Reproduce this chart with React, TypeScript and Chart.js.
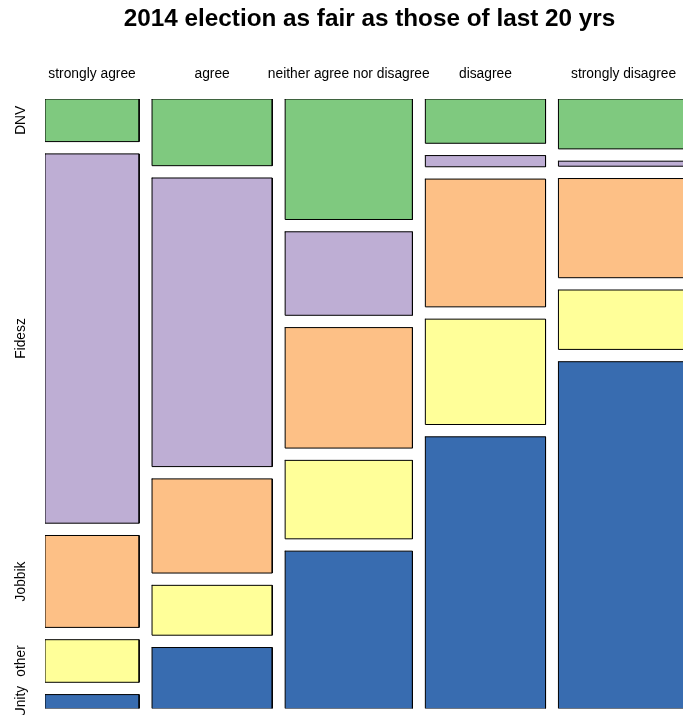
import { useEffect, useRef } from 'react';
import { Chart, registerables } from 'chart.js';

Chart.register(...registerables);

const chartTitle = '2014 election as fair as those of last 20 yrs';

// Answer categories (columns) and the share of respondents giving each answer (%)
const answers = ['strongly agree', 'agree', 'neither agree nor disagree', 'disagree', 'strongly disagree'];
const answerShare = [15.9, 20.3, 21.5, 20.3, 22.0];

// Party categories (rows), top to bottom
const parties = ['DNV', 'Fidesz', 'Jobbik', 'other', 'Unity'];

// Party split within each answer (% of that answer's respondents)
const dnv = [7.6, 11.9, 21.5, 7.9, 8.9];
const fidesz = [65.9, 51.5, 14.9, 2.0, 0.9];
const jobbik = [16.4, 16.8, 21.5, 22.8, 17.7];
const other = [7.6, 8.9, 14.0, 18.8, 10.6];
const unity = [2.5, 10.9, 28.1, 48.5, 61.9];

const partyColors = ['#7FC97F', '#BEAED4', '#FDC086', '#FFFF99', '#386CB0'];

// Spacing between mosaic tiles, in axis units
const GAP_X = 2.18;
const GAP_Y = 2.195;

const FONT = 'Liberation Sans, Arial, Helvetica, sans-serif';
const TITLE_SIZE = 24.3;
const TITLE_PAD_TOP = 4.5;
const TOP_AREA = 99; // title + answer labels above the mosaic

type Tile = { party: number; answer: number; x0: number; x1: number; y0: number; y1: number };

function buildMosaic(): { tiles: Tile[]; xMax: number; yMax: number } {
  const rows = [dnv, fidesz, jobbik, other, unity];
  const shareTotal = answerShare.reduce((s, v) => s + v, 0);
  const tiles: Tile[] = [];
  let x = 0;
  answers.forEach((_, j) => {
    const w = (answerShare[j] / shareTotal) * 100;
    const colTotal = rows.reduce((s, row) => s + row[j], 0);
    let y = 0;
    rows.forEach((row, i) => {
      const h = (row[j] / colTotal) * 100;
      tiles.push({ party: i, answer: j, x0: x, x1: x + w, y0: y, y1: y + h });
      y += h + GAP_Y;
    });
    x += w + GAP_X;
  });
  return {
    tiles,
    xMax: 100 + (answers.length - 1) * GAP_X,
    yMax: 100 + (parties.length - 1) * GAP_Y,
  };
}

export default function App() {
  const canvasRef = useRef<HTMLCanvasElement | null>(null);

  useEffect(() => {
    const canvas = canvasRef.current;
    if (!canvas) return;
    const { tiles, xMax, yMax } = buildMosaic();

    const columnCenters = answers.map((_, j) => {
      const t = tiles.find((tt) => tt.answer === j)!;
      return (t.x0 + t.x1) / 2;
    });
    const rowCenters = parties.map((_, i) => {
      const t = tiles.find((tt) => tt.answer === 0 && tt.party === i)!;
      return (t.y0 + t.y1) / 2;
    });

    const datasets = tiles.map((t) => ({
      label: `${parties[t.party]} / ${answers[t.answer]}`,
      data: [
        { x: t.x0, y: t.y0 },
        { x: t.x1, y: t.y0 },
        { x: t.x1, y: t.y1 },
        { x: t.x0, y: t.y1 },
        { x: t.x0, y: t.y0 },
      ],
      fill: 'shape' as const,
      backgroundColor: partyColors[t.party],
      borderColor: '#000000',
      borderWidth: 1,
      borderCapStyle: 'square' as const,
      borderJoinStyle: 'miter' as const,
      pointRadius: 0,
      pointHoverRadius: 0,
      tension: 0,
    }));

    const titleHeight = TITLE_PAD_TOP + TITLE_SIZE * 1.2;

    const chart = new Chart(canvas, {
      type: 'line',
      data: { datasets },
      options: {
        animation: false,
        responsive: false,
        devicePixelRatio: 1,
        layout: { padding: { left: 0, right: 0, top: 0, bottom: 6.4 } },
        plugins: {
          legend: { display: false },
          tooltip: { enabled: false },
          title: {
            display: true,
            text: chartTitle,
            color: '#000000',
            font: { family: FONT, size: TITLE_SIZE, weight: 'bold' },
            padding: { top: TITLE_PAD_TOP, bottom: 0 },
          },
        },
        scales: {
          x: {
            type: 'linear',
            position: 'top',
            min: 0,
            max: xMax,
            grid: { display: false, drawTicks: false },
            border: { display: false },
            ticks: {
              autoSkip: false,
              maxRotation: 0,
              minRotation: 0,
              padding: 16.2,
              color: '#000000',
              font: { family: FONT, size: 13.8 },
              callback: (_v: any, i: number) => answers[i],
            },
            afterBuildTicks: (scale: any) => {
              scale.ticks = columnCenters.map((v) => ({ value: v }));
            },
            afterFit: (scale: any) => {
              scale.height = TOP_AREA - titleHeight;
              scale.paddingLeft = 0;
              scale.paddingRight = 0;
            },
          },
          y: {
            type: 'linear',
            position: 'left',
            reverse: true,
            min: 0,
            max: yMax,
            grid: { display: false, drawTicks: false },
            border: { display: false },
            ticks: {
              autoSkip: false,
              minRotation: 90,
              maxRotation: 90,
              crossAlign: 'center',
              padding: 3,
              color: '#000000',
              font: { family: FONT, size: 13.8 },
              callback: (_v: any, i: number) => parties[i],
            },
            afterBuildTicks: (scale: any) => {
              scale.ticks = rowCenters.map((v) => ({ value: v }));
            },
            afterFit: (scale: any) => {
              scale.width = 45;
              scale.paddingTop = 0;
              scale.paddingBottom = 0;
            },
          },
          y2: {
            type: 'linear',
            position: 'right',
            display: true,
            grid: { display: false, drawTicks: false },
            border: { display: false },
            ticks: { display: false },
            afterFit: (scale: any) => {
              scale.width = 50.3;
              scale.paddingTop = 0;
              scale.paddingBottom = 0;
            },
          },
        },
      },
    });

    return () => {
      chart.destroy();
    };
  }, []);

  return (
    <div
      style={{
        position: 'fixed',
        left: 0,
        top: 0,
        width: 683,
        height: 715,
        overflow: 'hidden',
        background: '#ffffff',
      }}
    >
      <div style={{ width: 739, height: 715 }}>
        <canvas ref={canvasRef} width={739} height={715} style={{ display: 'block' }} />
      </div>
    </div>
  );
}
